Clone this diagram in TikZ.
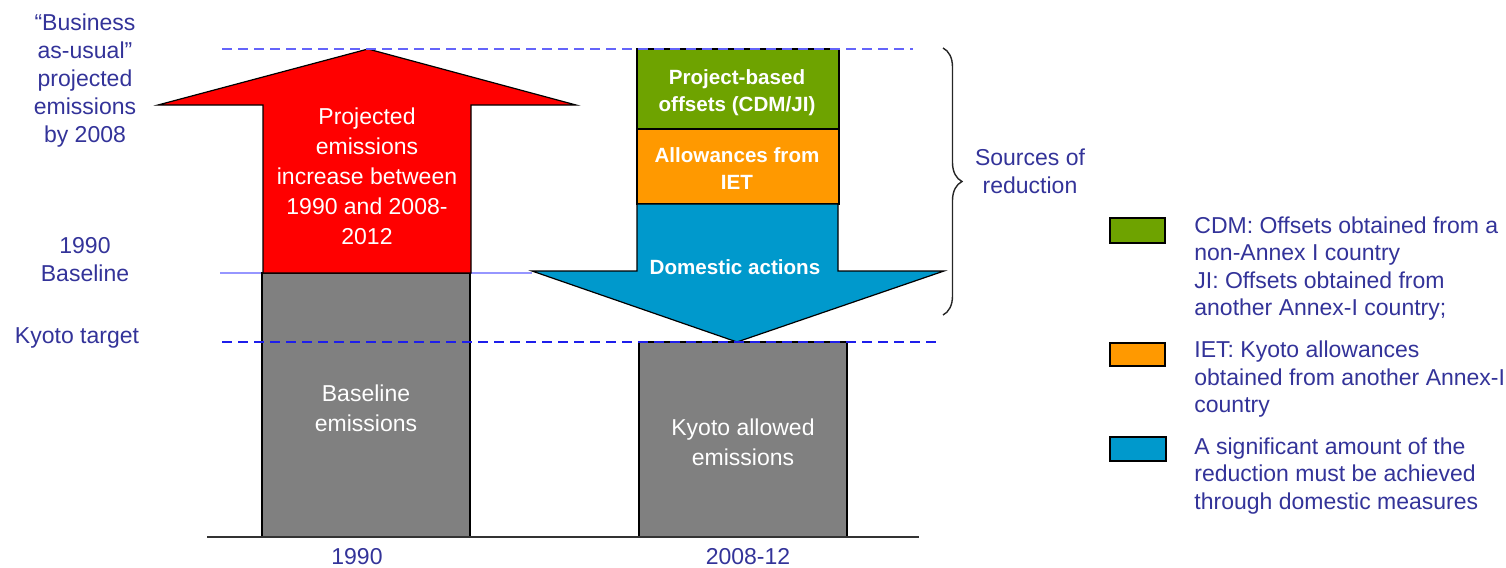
\documentclass[tikz,border=0pt]{standalone}
\usepackage{fontspec}
\setmainfont{Liberation Sans}
\usetikzlibrary{decorations.pathreplacing}
\definecolor{navy}{RGB}{51,51,153}
\definecolor{gfill}{RGB}{110,163,0}
\definecolor{ofill}{RGB}{255,153,0}
\definecolor{bfill}{RGB}{0,153,204}
\definecolor{gray50}{RGB}{128,128,128}
\definecolor{dashblue}{RGB}{100,100,250}
\definecolor{kyblue}{RGB}{30,30,235}
\definecolor{baseblue}{RGB}{150,150,255}
\tikzset{
  lbl/.style={text=navy, align=center, inner sep=0pt, font=\fontsize{11.5}{14}\selectfont},
  legtxt/.style={text=navy, align=left, inner sep=0pt, anchor=west, font=\fontsize{11.5}{13.75}\selectfont},
  wtxt/.style={text=white, align=center, inner sep=0pt, font=\fontsize{11.5}{15}\selectfont},
  btxt/.style={text=white, align=center, inner sep=0pt, font=\fontsize{10.3}{13.5}\selectfont\bfseries},
  shape outline/.style={draw=black, line width=0.6pt},
  guide/.style={dashblue, line width=1.1pt, dash pattern=on 5pt off 3pt},
  kguide/.style={kyblue, line width=1.1pt, dash pattern=on 5pt off 3pt},
  legbox/.style={draw=black, line width=1.1pt}
}
\begin{document}
\begin{tikzpicture}[x=0.5pt,y=-0.5pt]
\useasboundingbox (0,0) rectangle (1506,568);
% baseline 1990 line
\coordinate (bl0) at (220,273);
\coordinate (bl1) at (532,273);
\draw[baseblue, line width=1pt] (bl0) -- (bl1);
% axis
\coordinate (ax0) at (207,537);
\coordinate (ax1) at (919,537);
% gray bars
\fill[gray50, shape outline] (262,273) rectangle (470,537);
\fill[gray50, shape outline] (639,342) rectangle (847,537);
\draw[black!80, line width=0.9pt] (ax0) -- (ax1);
% red arrow
\filldraw[fill=red, shape outline] (368,49) -- (576,105) -- (471,105) -- (471,273) -- (263,273) -- (263,105) -- (158,105) -- cycle;
% stack
\filldraw[fill=gfill, shape outline] (637,49) rectangle (839,129);
\filldraw[fill=ofill, shape outline] (637,129) rectangle (839,204);
\filldraw[fill=bfill, shape outline] (637,204) -- (838,204) -- (838,271) -- (944,271) -- (737,342) -- (532,271) -- (637,271) -- cycle;
% dashed guides
\coordinate (t0) at (222,49);
\coordinate (t1) at (913,49);
\coordinate (k0) at (222,342);
\coordinate (k1) at (940,342);
\draw[guide] (t0) -- (t1);
\draw[kguide] (k0) -- (k1);
% brace
\coordinate (br0) at (943,48);
\coordinate (br1) at (943,315);
\draw[black!85, line width=0.7pt, decorate, decoration={brace, amplitude=9.5pt}] (br0) -- (br1);
% texts
\node[lbl] (bau) at (85,81) {“Business\\as-usual”\\projected\\emissions\\by 2008};
\node[lbl] (base) at (85,259.5) {1990\\Baseline};
\node[lbl] (kt) at (77,338) {Kyoto target};
\node[wtxt] (proj) at (367,176) {Projected\\emissions\\increase between\\1990 and 2008-\\2012};
\node[wtxt] (bem) at (366,408) {Baseline\\emissions};
\node[wtxt] (kem) at (743,442) {Kyoto allowed\\emissions};
\node[btxt] (pbo) at (737,92.5) {Project-based\\offsets (CDM/JI)};
\node[btxt] (aft) at (737,169) {Allowances from\\IET};
\node[btxt] (dom) at (735,267) {Domestic actions};
\node[lbl] (sor) at (1030,171) {Sources of\\reduction};
\node[lbl] (y1) at (357,557) {1990};
\node[lbl] (y2) at (748,557) {2008-12};
% legend
\filldraw[fill=gfill, legbox] (1110,218) rectangle (1165,243);
\filldraw[fill=ofill, legbox] (1110,343) rectangle (1165,366);
\filldraw[fill=bfill, legbox] (1110,437) rectangle (1166,461);
\node[legtxt] (lg) at (1194,268.5) {CDM: Offsets obtained from a\\non-Annex I country\\JI: Offsets obtained from\\another Annex-I country;};
\node[legtxt] (lo) at (1194,379.5) {IET: Kyoto allowances\\obtained from another Annex-I\\country};
\node[legtxt] (lb) at (1194,476) {A significant amount of the\\reduction must be achieved\\through domestic measures};
\end{tikzpicture}
\end{document}
